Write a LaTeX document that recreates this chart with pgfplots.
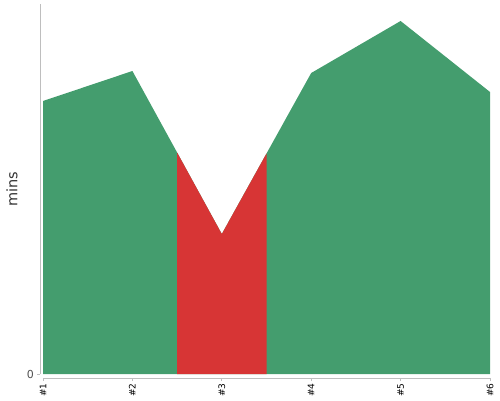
\documentclass[border=0pt]{standalone}
\usepackage{fontspec}
\setmainfont{DejaVu Sans}
\usepackage{pgfplots}
\pgfplotsset{compat=1.18}
\usepgfplotslibrary{fillbetween}
\definecolor{ggreen}{RGB}{68,157,110}
\definecolor{rred}{RGB}{215,53,53}
\definecolor{axgray}{RGB}{190,190,190}
\definecolor{txtgray}{RGB}{80,80,80}
\begin{document}
\begin{tikzpicture}
\begin{axis}[
  scale only axis,
  width=450pt, height=374pt,
  xmin=0.9664, xmax=6,
  ymin=-4, ymax=370,
  axis x line=bottom, axis y line=left,
  axis line style={draw=none},
  xtick={1,2,3,4,5,6},
  xticklabels={\#1,\#2,\#3,\#4,\#5,\#6},
  ytick={0},
  tick align=outside,
  major tick length=3pt,
  tick style={axgray, line width=0.8pt},
  x tick label style={rotate=90, anchor=east, font=\fontsize{9}{10}\selectfont, text=black, inner sep=2.5pt},
  y tick label style={font=\fontsize{11}{12}\selectfont, text=txtgray, inner sep=3pt},
  /pgf/number format/assume math mode=true,
  ylabel={mins},
  every axis y label/.style={at={(axis description cs:0,0.505)}, rotate=90, anchor=center, yshift=28pt, font=\fontsize{14.5}{15}\selectfont, text=black!80},
  clip=false,
]
\addplot[draw=none, name path=A] coordinates {(1,273) (2,303) (3,140) (4,301) (5,353) (6,282)};
\addplot[draw=none, name path=B] coordinates {(1,0) (6,0)};
\addplot[ggreen, draw=none] fill between[of=A and B];
\addplot[rred, draw=none] fill between[of=A and B, soft clip={domain=2.5:3.5}];
\draw[axgray, line width=0.8pt] (axis cs:1,-4) -- (axis cs:6,-4);
\draw[axgray, line width=0.8pt] (axis cs:0.9664,0) -- (axis cs:0.9664,370);
\end{axis}
\path (-40pt,-22pt) rectangle (460pt,378pt);
\end{tikzpicture}
\end{document}
